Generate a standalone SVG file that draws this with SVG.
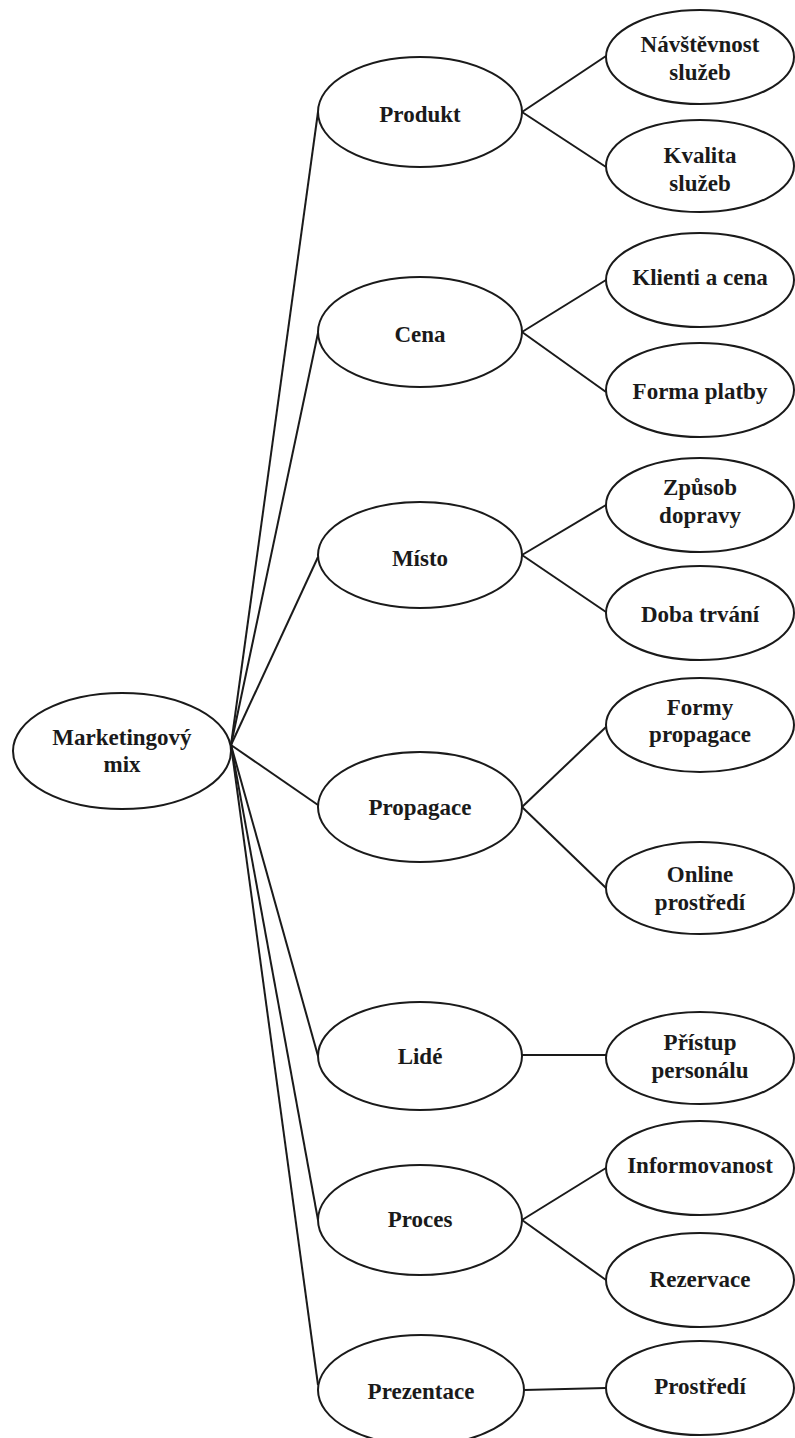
<svg xmlns="http://www.w3.org/2000/svg" width="795" height="1438" viewBox="0 0 795 1438">
<style>
.n{fill:#fff;stroke:#1a1a1a;stroke-width:2}
.t{font-family:"Liberation Serif","Times New Roman",serif;font-weight:bold;font-size:23px;fill:#1a1a1a;text-anchor:middle}
.c line{stroke:#1a1a1a;stroke-width:2}
</style>
<rect width="795" height="1438" fill="#fff"/>
<g class="c" id="connectors">
<line x1="231" y1="745" x2="318" y2="112"/>
<line x1="231" y1="745" x2="318" y2="333"/>
<line x1="231" y1="745" x2="318" y2="557"/>
<line x1="231" y1="745" x2="318" y2="805"/>
<line x1="231" y1="745" x2="318" y2="1056"/>
<line x1="231" y1="745" x2="318" y2="1220"/>
<line x1="231" y1="745" x2="318" y2="1385"/>
<line x1="522" y1="112" x2="606" y2="56"/>
<line x1="522" y1="112" x2="606" y2="167"/>
<line x1="522" y1="332" x2="606" y2="280"/>
<line x1="522" y1="332" x2="606" y2="392"/>
<line x1="522" y1="555" x2="606" y2="505"/>
<line x1="522" y1="555" x2="606" y2="612"/>
<line x1="522" y1="807" x2="606" y2="727"/>
<line x1="522" y1="807" x2="606" y2="888"/>
<line x1="522" y1="1055" x2="606" y2="1055"/>
<line x1="522" y1="1220" x2="606" y2="1168"/>
<line x1="522" y1="1220" x2="606" y2="1280"/>
<line x1="524" y1="1390" x2="606" y2="1388"/>
</g>
<g id="root"><ellipse class="n" cx="122" cy="751" rx="109" ry="58"/><text class="t" x="122" y="745">Marketingový</text><text class="t" x="122" y="772">mix</text></g>
<g id="produkt"><ellipse class="n" cx="420" cy="112" rx="102" ry="55"/><text class="t" x="420" y="122">Produkt</text></g>
<g id="cena"><ellipse class="n" cx="420" cy="332" rx="102" ry="55"/><text class="t" x="420" y="342">Cena</text></g>
<g id="misto"><ellipse class="n" cx="420" cy="555" rx="102" ry="53"/><text class="t" x="420" y="566">Místo</text></g>
<g id="propagace"><ellipse class="n" cx="420" cy="807" rx="102" ry="55"/><text class="t" x="420" y="815">Propagace</text></g>
<g id="lide"><ellipse class="n" cx="420" cy="1056" rx="102" ry="54"/><text class="t" x="420" y="1064">Lidé</text></g>
<g id="proces"><ellipse class="n" cx="420" cy="1220" rx="102" ry="55"/><text class="t" x="420" y="1227">Proces</text></g>
<g id="prezentace"><ellipse class="n" cx="421" cy="1390" rx="103" ry="55"/><text class="t" x="421" y="1399">Prezentace</text></g>
<g id="navstevnost"><ellipse class="n" cx="700" cy="57" rx="94" ry="47"/><text class="t" x="700" y="52">Návštěvnost</text><text class="t" x="700" y="80">služeb</text></g>
<g id="kvalita"><ellipse class="n" cx="700" cy="166" rx="94" ry="46"/><text class="t" x="700" y="163">Kvalita</text><text class="t" x="700" y="191">služeb</text></g>
<g id="klienti"><ellipse class="n" cx="700" cy="280" rx="94" ry="47"/><text class="t" x="700" y="285">Klienti a cena</text></g>
<g id="forma-platby"><ellipse class="n" cx="700" cy="390" rx="94" ry="47"/><text class="t" x="700" y="399">Forma platby</text></g>
<g id="zpusob"><ellipse class="n" cx="700" cy="505" rx="94" ry="47"/><text class="t" x="700" y="495">Způsob</text><text class="t" x="700" y="523">dopravy</text></g>
<g id="doba"><ellipse class="n" cx="700" cy="613" rx="94" ry="47"/><text class="t" x="700" y="622">Doba trvání</text></g>
<g id="formy"><ellipse class="n" cx="700" cy="725" rx="94" ry="47"/><text class="t" x="700" y="715">Formy</text><text class="t" x="700" y="742">propagace</text></g>
<g id="online"><ellipse class="n" cx="700" cy="888" rx="94" ry="46"/><text class="t" x="700" y="882">Online</text><text class="t" x="700" y="910">prostředí</text></g>
<g id="pristup"><ellipse class="n" cx="700" cy="1058" rx="94" ry="46"/><text class="t" x="700" y="1050">Přístup</text><text class="t" x="700" y="1078">personálu</text></g>
<g id="informovanost"><ellipse class="n" cx="700" cy="1168" rx="94" ry="47"/><text class="t" x="700" y="1173">Informovanost</text></g>
<g id="rezervace"><ellipse class="n" cx="700" cy="1280" rx="94" ry="47"/><text class="t" x="700" y="1287">Rezervace</text></g>
<g id="prostredi"><ellipse class="n" cx="700" cy="1388" rx="94" ry="47"/><text class="t" x="700" y="1394">Prostředí</text></g>
</svg>
